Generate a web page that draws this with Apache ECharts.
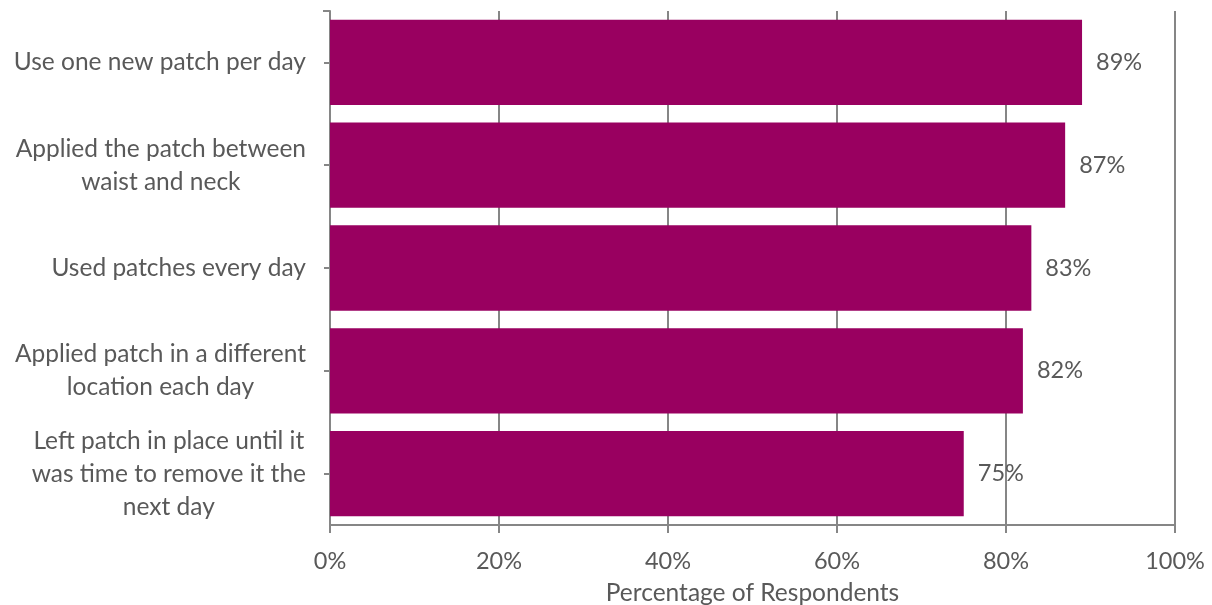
<!DOCTYPE html>
<html>
<head>
<meta charset="utf-8">
<script src="https://cdn.jsdelivr.net/npm/echarts@6/dist/echarts.min.js"></script>
<style>
  html, body { margin: 0; padding: 0; background: #fff; }
  #chart { width: 1212px; height: 605px; }
</style>
</head>
<body>
<div id="chart"></div>
<script>
// Survey items, listed top to bottom
const categories = [
  'Use one new patch per day',
  'Applied the patch between\nwaist and neck',
  'Used patches every day',
  'Applied patch in a different\nlocation each day',
  'Left patch in place until it\nwas time to remove it the\nnext day'
];
// Share of respondents (%)
const values = [89, 87, 83, 82, 75];
const xTicks = [0, 20, 40, 60, 80, 100];

const FONT = 'Lato';
const TEXT = '#595959';
const LINE = '#868686';
const TEXT_SIZE = 24.5;
const NUM_SIZE = 23.5;

const chart = echarts.init(document.getElementById('chart'), null, { renderer: 'canvas' });

chart.setOption({
  animation: false,
  backgroundColor: '#ffffff',
  textStyle: { fontFamily: FONT, color: TEXT },
  grid: {
    left: 330, right: 37, top: 11, bottom: 80,
    containLabel: false,
    outerBoundsMode: 'none'
  },
  xAxis: {
    type: 'value',
    min: xTicks[0],
    max: xTicks[xTicks.length - 1],
    interval: 20,
    name: 'Percentage of Respondents',
    nameLocation: 'middle',
    nameGap: 56,
    nameTextStyle: { fontFamily: FONT, fontSize: TEXT_SIZE, color: TEXT },
    axisLine: { show: true, lineStyle: { color: LINE, width: 2 } },
    axisTick: { show: true, length: 8, lineStyle: { color: LINE, width: 2 } },
    axisLabel: {
      fontFamily: FONT, fontSize: NUM_SIZE, color: TEXT, margin: 24,
      formatter: v => v + '%'
    },
    splitLine: { show: true, lineStyle: { color: LINE, width: 2 } }
  },
  yAxis: {
    type: 'category',
    data: categories,
    inverse: true,
    axisLine: { show: true, lineStyle: { color: LINE, width: 2 } },
    axisTick: { show: true, alignWithLabel: true, length: 6, lineStyle: { color: LINE, width: 2 } },
    axisLabel: {
      fontFamily: FONT, fontSize: TEXT_SIZE, color: TEXT, margin: 24, lineHeight: 33,
      formatter: s => s.split('\n').map(l => '{c|' + l + '}').join('\n'),
      rich: { c: { align: 'center', fontFamily: FONT, fontSize: TEXT_SIZE, color: TEXT, lineHeight: 33 } }
    }
  },
  series: [{
    type: 'bar',
    data: values,
    barCategoryGap: '17%',
    itemStyle: { color: '#990060' },
    label: {
      show: true,
      position: 'right',
      distance: 14,
      fontFamily: FONT,
      fontSize: NUM_SIZE,
      color: TEXT,
      formatter: p => p.value + '%'
    }
  }],
  // short cap tick at the top end of the category axis
  graphic: [{
    type: 'line',
    shape: { x1: 323, y1: 11, x2: 330, y2: 11 },
    style: { stroke: LINE, lineWidth: 2 }
  }]
});
</script>
</body>
</html>
